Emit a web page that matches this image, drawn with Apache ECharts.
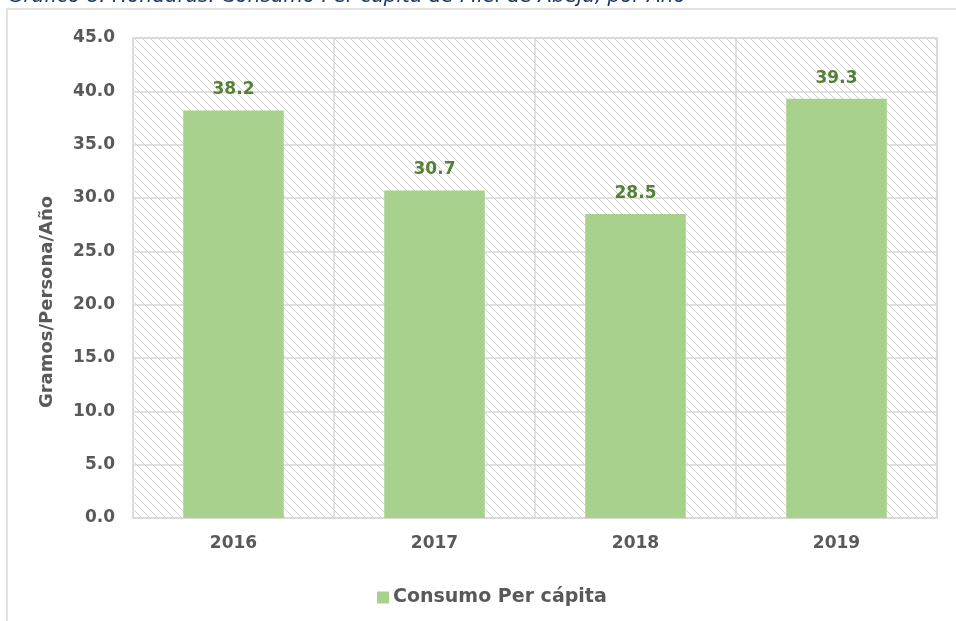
<!DOCTYPE html>
<html>
<head>
<meta charset="utf-8">
<script src="https://cdn.jsdelivr.net/npm/echarts@6/dist/echarts.min.js"></script>
<style>
  html, body { margin: 0; padding: 0; background: #fff; }
  #chart { width: 956px; height: 621px; }
</style>
</head>
<body>
<div id="chart"></div>
<script>
// data
const years = ['2016', '2017', '2018', '2019']
const consumo = [38.2, 30.7, 28.5, 39.3]
const seriesName = 'Consumo Per cápita'
const yTitle = 'Gramos/Persona/Año'
const chartTitle = 'Gráfico 8: Honduras: Consumo Per cápita de Miel de Abeja, por Año'

// light diagonal hatch for the plot area
const makeHatch = () => {
  const c = document.createElement('canvas')
  c.width = 8
  c.height = 8
  const ctx = c.getContext('2d')
  ctx.fillStyle = '#ffffff'
  ctx.fillRect(0, 0, 8, 8)
  ctx.fillStyle = '#d2d2d2'
  for (let i = 0; i < 8; i++) {
    ctx.fillRect(i, i, 1, 1)
  }
  return c
}

const chart = echarts.init(document.getElementById('chart'))
const font = 'DejaVu Sans, Verdana, sans-serif'

chart.setOption({
  animation: false,
  textStyle: { fontFamily: font },
  graphic: [
    {
      type: 'rect',
      shape: { x: 7, y: 9, width: 1000, height: 700 },
      style: { fill: 'none', stroke: '#d9d9d9', lineWidth: 1.5 },
      silent: true
    },
    {
      type: 'text',
      x: 8,
      y: -3,
      style: {
        text: chartTitle,
        fill: '#1f3864',
        font: 'italic 20px ' + font,
        verticalAlign: 'middle'
      }
    }
  ],
  grid: {
    left: 133,
    right: 19,
    top: 38,
    bottom: 103,
    show: true,
    backgroundColor: { image: makeHatch(), repeat: 'repeat' },
    borderColor: '#d9d9d9',
    borderWidth: 1.5
  },
  legend: {
    left: 372,
    top: 583,
    itemWidth: 12,
    itemHeight: 12,
    itemGap: 4,
    icon: 'rect',
    textStyle: { fontSize: 19, fontWeight: 'bold', color: '#595959', fontFamily: font, padding: [0, 0, 0, -1] },
    data: [seriesName]
  },
  xAxis: {
    type: 'category',
    data: years,
    axisTick: { show: false },
    axisLine: { lineStyle: { color: '#d9d9d9', width: 1.5 } },
    axisLabel: { color: '#595959', fontSize: 17, fontWeight: 'bold', margin: 17 },
    splitLine: { show: true, lineStyle: { color: '#d9d9d9', width: 1.5 } }
  },
  yAxis: {
    type: 'value',
    min: 0,
    max: 45,
    interval: 5,
    name: yTitle,
    nameLocation: 'middle',
    nameGap: 77,
    nameTextStyle: { color: '#595959', fontSize: 18, fontWeight: 'bold', padding: [0, 48, 0, 0] },
    axisLine: { show: false },
    axisTick: { show: false },
    axisLabel: {
      color: '#595959',
      fontSize: 17,
      fontWeight: 'bold',
      margin: 18,
      formatter: v => v.toFixed(1)
    },
    splitLine: { lineStyle: { color: '#d9d9d9', width: 1.5 } }
  },
  series: [{
    name: seriesName,
    type: 'bar',
    data: consumo,
    barWidth: '50%',
    itemStyle: { color: '#a9d18e' },
    label: {
      show: true,
      position: 'top',
      distance: 12,
      color: '#538135',
      fontSize: 17,
      fontWeight: 'bold',
      formatter: p => p.value.toFixed(1)
    }
  }]
})
</script>
</body>
</html>
